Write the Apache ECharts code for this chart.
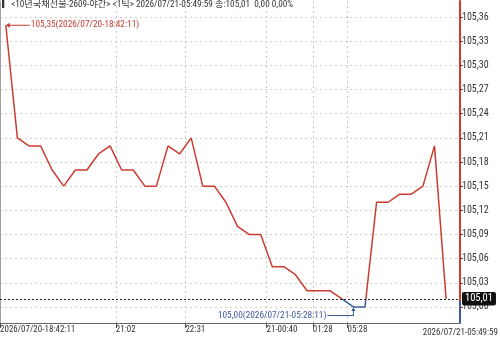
<!DOCTYPE html>
<html><head><meta charset="utf-8">
<script src="https://cdn.jsdelivr.net/npm/echarts@6/dist/echarts.min.js"></script>
<style>html,body{margin:0;padding:0;background:#fff}#c{width:500px;height:338px;}</style>
</head><body><div id="c"></div>
<script>
// ---- data ----
const titleText = '\u258E<10년국채선물-2609-야간> <1틱> 2026/07/21-05:49:59 종:105,01  0,00 0,00%';
const prices = [105.35,105.21,105.20,105.20,105.17,105.15,105.17,105.17,105.19,105.20,
                105.17,105.17,105.15,105.15,105.20,105.19,105.21,105.15,105.15,105.13,
                105.10,105.09,105.09,105.05,105.05,105.04,105.02,105.02,105.02,105.01,
                105.00,105.00,105.13,105.13,105.14,105.14,105.15,105.20,105.01];
const xTickIndex = [0, 10, 16, 23, 27, 30];
const xTickLabels = ['2026/07/20-18:42:11', '21:02', '22:31', '21-00:40', '01:28', '05:28'];
const xEndLabel = '2026/07/21-05:49:59';
const yTicks = [105.00,105.03,105.06,105.09,105.12,105.15,105.18,105.21,105.24,105.27,105.30,105.33,105.36];
const maxTime = '2026/07/20-18:42:11';
const minTime = '2026/07/21-05:28:11';

// ---- chart ----
const RED = '#cc3b30', BLUE = '#3d5b9b';
const FONT = '"Roboto Condensed","Noto Sans CJK KR",sans-serif';
const yMin = 104.98, yMax = 105.38;
const lastPrice = prices[prices.length - 1];
const f = (yMax - lastPrice) / (yMax - yMin);
const comma = v => v.toFixed(2).replace('.', ',');
const seriesData = prices.map((v, i) => [i + 0.5, v]);

const chart = echarts.init(document.getElementById('c'), null, {renderer: 'canvas'});
chart.setOption({
  animation: false,
  backgroundColor: '#fff',
  title: {
    text: titleText, left: 2, top: 0, padding: 0,
    textStyle: {fontSize: 9.2, fontWeight: 'normal', color: '#333', fontFamily: FONT}
  },
  grid: {left: 0, right: 40, top: 1, bottom: 15, outerBoundsMode: 'none', containLabel: false},
  xAxis: {
    type: 'value', min: 0, max: prices.length + 0.7,
    axisLine: {show: true, onZero: false, lineStyle: {color: '#666', width: 1}},
    axisTick: {show: true, customValues: xTickIndex, length: 5, lineStyle: {color: '#555'}},
    axisLabel: {
      customValues: xTickIndex, align: 'left', margin: 2,
      color: '#333', fontSize: 9, fontFamily: FONT,
      formatter: v => xTickLabels[xTickIndex.indexOf(Math.round(v))] || ''
    },
    splitLine: {show: true, lineStyle: {color: '#c8c8c8', type: [2, 3]}}
  },
  yAxis: [{
    type: 'value', position: 'right', min: yMin, max: yMax, scale: true,
    axisLine: {show: true, onZero: false, lineStyle: {width: 2, color: new echarts.graphic.LinearGradient(0, 0, 0, 1, [
      {offset: 0, color: RED}, {offset: f, color: RED}, {offset: f, color: BLUE}, {offset: 1, color: BLUE}])}},
    axisTick: {show: true, customValues: yTicks, length: 3, lineStyle: {color: '#933'}},
    axisLabel: {customValues: yTicks, margin: 2, color: '#333', fontSize: 10, fontFamily: FONT, formatter: v => comma(v)},
    splitLine: {show: true, lineStyle: {color: '#d0d0d0', type: [2, 3]}}
  }, {
    type: 'value', position: 'left', min: yMin, max: yMax,
    axisLine: {show: true, onZero: false, lineStyle: {color: '#a0a0a0', width: 1}},
    axisTick: {show: false}, axisLabel: {show: false}, splitLine: {show: false}
  }],
  visualMap: {
    type: 'piecewise', show: false, seriesIndex: 0, dimension: 1,
    pieces: [{gte: yMin, lt: lastPrice, color: BLUE}, {gte: lastPrice, lte: yMax, color: RED}]
  },
  graphic: [{
    type: 'text', right: 2, bottom: 1,
    style: {text: xEndLabel, fill: '#333', font: '9px ' + FONT}
  }],
  series: [{
    type: 'line', data: seriesData, showSymbol: false, symbol: 'none', yAxisIndex: 0,
    lineStyle: {width: 1.5},
    markLine: {
      silent: true, symbol: ['none', 'none'],
      lineStyle: {color: '#222', type: [2, 2], width: 1},
      label: {show: true, position: 'end', distance: 2, formatter: () => comma(lastPrice),
        color: '#fff', backgroundColor: '#111', padding: [2, 3, 1, 3], borderRadius: 2,
        fontSize: 10.5, fontFamily: FONT},
      data: [{yAxis: lastPrice}]
    },
    markPoint: {
      silent: true,
      data: [
        {type: 'max', valueDim: 'y',
          symbol: 'path://M0,2.5 L4,0 L4,2 L24,2 L24,3 L4,3 L4,5 Z', symbolSize: [24, 5], symbolOffset: [12, 0],
          itemStyle: {color: RED},
          label: {show: true, position: 'right', distance: 1, color: RED, fontSize: 9.3, fontFamily: FONT,
            formatter: p => comma(p.value) + '(' + maxTime + ')'}},
        {type: 'min', valueDim: 'y',
          symbol: 'path://M26,0 L28,4 L26.5,4 L26.5,9 L0,9 L0,8 L25.5,8 L25.5,4 L24,4 Z', symbolSize: [28, 9], symbolOffset: [-12, 4.5],
          itemStyle: {color: BLUE},
          label: {show: true, position: 'left', distance: 1, offset: [0, 4], color: BLUE, fontSize: 9.3, fontFamily: FONT,
            formatter: p => comma(p.value) + '(' + minTime + ')'}}
      ]
    }
  }]
});
</script></body></html>
